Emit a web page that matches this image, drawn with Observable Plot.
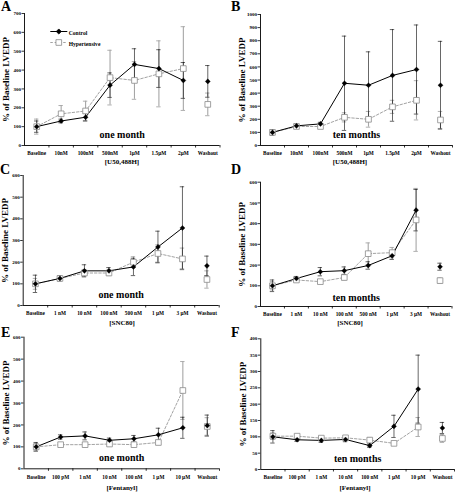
<!DOCTYPE html>
<html><head><meta charset="utf-8">
<script src="https://cdn.jsdelivr.net/npm/d3@7"></script>
<script src="https://cdn.jsdelivr.net/npm/@observablehq/plot@0.6"></script>
<style>
body{margin:0;background:#fff;}
#fig{position:relative;width:455px;height:494px;overflow:hidden;background:#fff;font-family:"Liberation Serif","Times New Roman",serif;font-weight:bold;color:#000;}
#fig svg.pl{position:absolute;left:0;top:0;}
.lbl{position:absolute;white-space:nowrap;line-height:1;}
.letter{font-size:14px;}
.xt{font-size:7px;transform:translateX(-50%);}
</style></head><body><div id="fig"></div>
<script>
// ---- categories ----
const catsU = ["Baseline","10nM","100nM","500nM","1µM","1.5µM","2µM","Washout"];
const catsS = ["Baseline","1 nM","10 nM","100 nM","500 nM","1 µM","3 µM","Washout"];
const catsF = ["Baseline","100 pM","1 nM","10 nM","100 nM","1 µM","10 µM","Washout"];
// ---- y tick labels ----
const ticks700 = [0,100,200,300,400,500,600,700];
const ticks1000 = [0,100,200,300,400,500,600,700,800,900,1000];
const ticks600 = [0,100,200,300,400,500,600];
const ticks400 = [0,50,100,150,200,250,300,350,400];
// ---- A: U50,488H one month ----
const ctrlA = [100,130,150,320,430,408,345,340];
const ctrlErrA = [30,10,20,65,83,100,95,84];
const hypA = [100,168,183,360,345,380,408,218];
const hypErrA = [40,44,52,145,100,175,222,60];
// ---- B: U50,488H ten months ----
const ctrlB = [100,150,165,475,460,535,580,460];
const ctrlErrB = [22,15,12,360,255,350,340,335];
const hypB = [100,145,145,215,200,295,345,195];
const hypErrB = [12,12,10,35,60,50,150,65];
// ---- C: SNC80 one month ----
const ctrlC = [100,125,160,160,178,270,358,183];
const ctrlErrC = [40,12,28,15,40,73,190,45];
const hypC = [100,125,150,150,200,240,215,120];
const hypErrC = [25,10,15,12,25,40,50,40];
// ---- D: SNC80 ten months ----
const ctrlD = [100,135,168,173,198,245,465,192];
const ctrlErrD = [28,10,20,18,18,18,100,17];
const hypD = [100,128,120,140,255,260,418,125];
const hypErrD = [20,8,8,12,52,25,152,12];
// ---- E: Fentanyl one month ----
const ctrlE = [100,145,150,130,137,155,187,197];
const ctrlErrE = [20,10,18,10,15,30,48,48];
const hypE = [100,110,110,113,110,120,357,193];
const hypErrE = [15,8,10,10,10,10,132,40];
// ---- F: Fentanyl ten months ----
const ctrlF = [100,91,89,92,73,132,246,127];
const ctrlErrF = [19,5,6,7,5,34,104,17];
const hypF = [102,102,96,97,90,80,130,95];
const hypErrF = [10,5,5,6,8,5,29,12];

const seriesNames = ["Control","Hypertensive"];
const yTitle = "% of Baseline LVEDP";
const FONT = '"Liberation Serif","Times New Roman",serif';
const W = 455, H = 494;

const panels = [
  {cats:catsU, ctrl:ctrlA, ctrlErr:ctrlErrA, hyp:hypA, hypErr:hypErrA, yTicks:ticks700, x0:24, x1:219.5, yTop:13, y0:145, period:"one month", legend:true},
  {cats:catsU, ctrl:ctrlB, ctrlErr:ctrlErrB, hyp:hypB, hypErr:hypErrB, yTicks:ticks1000, x0:260, x1:452, yTop:14, y0:145, period:"ten months"},
  {cats:catsS, ctrl:ctrlC, ctrlErr:ctrlErrC, hyp:hypC, hypErr:hypErrC, yTicks:ticks600, x0:22.7, x1:218.7, yTop:175, y0:305, period:"one month"},
  {cats:catsS, ctrl:ctrlD, ctrlErr:ctrlErrD, hyp:hypD, hypErr:hypErrD, yTicks:ticks600, x0:260, x1:451.5, yTop:181.7, y0:306, period:"ten months", pdy:-6},
  {cats:catsF, ctrl:ctrlE, ctrlErr:ctrlErrE, hyp:hypE, hypErr:hypErrE, yTicks:ticks600, x0:23.5, x1:219, yTop:336.7, y0:468.3, period:"one month"},
  {cats:catsF, ctrl:ctrlF, ctrlErr:ctrlErrF, hyp:hypF, hypErr:hypErrF, yTicks:ticks400, x0:260.3, x1:454, yTop:338.3, y0:469, period:"ten months"}
];

const HYP = "#8a8a8a", HYPBAR = "#a6a6a6";
const lineSym = {draw(ctx) { ctx.moveTo(-8.5, 0); ctx.lineTo(8.5, 0); }};

function legendMarks() {
  const rows = [
    {name: seriesNames[0], dy: 18, stroke: "#000", sw: 1, dash: null, symbol: "diamond2", r: 2.3, fill: "#000"},
    {name: seriesNames[1], dy: 29, stroke: HYP, sw: 0.8, dash: "2.5,1.8", symbol: "square", r: 3.2, fill: "#fff"}
  ];
  return rows.flatMap(r => [
    Plot.dot([r.name], {frameAnchor:"top-left", dx:34.3, dy:r.dy, symbol:lineSym, fill:"none", stroke:r.stroke, strokeWidth:r.sw, strokeDasharray:r.dash ?? undefined}),
    Plot.dot([r.name], {frameAnchor:"top-left", dx:34.3, dy:r.dy, symbol:r.symbol, r:r.r, fill:r.fill, stroke:r.stroke, strokeWidth:0.8}),
    Plot.text([r.name], {frameAnchor:"top-left", dx:44.2, dy:r.dy, textAnchor:"start", fontSize:5.6, fontWeight:"bold"})
  ]);
}

function panel(p) {
  const ctrl = p.cats.map((c,i)=>({cat:c, v:p.ctrl[i], e:p.ctrlErr[i]}));
  const hyp = p.cats.map((c,i)=>({cat:c, v:p.hyp[i], e:p.hypErr[i]}));
  const last = p.cats[p.cats.length-1];
  const conn = arr => arr.filter(d => d.cat !== last);
  const step = (p.x1 - p.x0) / p.cats.length;
  const yMax = p.yTicks[p.yTicks.length-1];
  const cap = (step - 4.4) / 2;
  const svg = Plot.plot({
    width: W, height: H,
    marginLeft: p.x0, marginRight: W - p.x1, marginTop: p.yTop, marginBottom: H - p.y0,
    style: {background:"transparent", overflow:"visible", fontFamily: FONT, fontWeight:"bold", color:"#000"},
    x: {type:"band", domain:p.cats, padding:0, round:false},
    y: {domain:[0, yMax], nice:false},
    marks: [
      Plot.axisY({ticks:p.yTicks, tickSize:2.5, tickPadding:1, fontSize:5, label:null, tickFormat:d=>String(d), strokeWidth:0.8}),
      Plot.axisX({ticks:p.cats, tickSize:2.5, tickFormat:()=>"", dx:step/2, label:null, strokeWidth:0.8}),
      Plot.axisX({ticks:p.cats, tickSize:0, tickPadding:6, fontSize:5.3, label:null}),
      Plot.ruleY([0], {stroke:"#000", strokeWidth:0.9}),
      Plot.ruleX([p.cats[0]], {dx:-step/2, stroke:"#000", strokeWidth:0.9}),
      Plot.text([yTitle], {frameAnchor:"left", textAnchor:"middle", rotate:-90, dx:-18, fontSize:9, fontWeight:"bold"}),
      Plot.text([p.period], {frameAnchor:"bottom", dy:(p.pdy ?? -7.5), fontSize:10, fontWeight:"bold"}),
      // hypertensive error bars
      Plot.ruleX(hyp, {x:"cat", y1:d=>d.v-d.e, y2:d=>d.v+d.e, stroke:HYPBAR, strokeWidth:1.1}),
      Plot.tickY(hyp, {x:"cat", y:d=>d.v-d.e, insetLeft:cap, insetRight:cap, stroke:HYPBAR, strokeWidth:0.9}),
      Plot.tickY(hyp, {x:"cat", y:d=>d.v+d.e, insetLeft:cap, insetRight:cap, stroke:HYPBAR, strokeWidth:0.9}),
      // control error bars
      Plot.ruleX(ctrl, {x:"cat", y1:d=>d.v-d.e, y2:d=>d.v+d.e, stroke:"#000", strokeWidth:0.6}),
      Plot.tickY(ctrl, {x:"cat", y:d=>d.v-d.e, insetLeft:cap, insetRight:cap, stroke:"#000", strokeWidth:0.6}),
      Plot.tickY(ctrl, {x:"cat", y:d=>d.v+d.e, insetLeft:cap, insetRight:cap, stroke:"#000", strokeWidth:0.6}),
      // lines
      Plot.line(conn(hyp), {x:"cat", y:"v", stroke:HYP, strokeWidth:0.8, strokeDasharray:"2.5,1.8"}),
      Plot.line(conn(ctrl), {x:"cat", y:"v", stroke:"#000", strokeWidth:1}),
      // markers
      Plot.dot(hyp, {x:"cat", y:"v", symbol:"square", r:3.2, fill:"#fff", stroke:HYP, strokeWidth:0.8}),
      Plot.dot(ctrl, {x:"cat", y:"v", symbol:"diamond2", r:2.3, fill:"#000", stroke:"#000", strokeWidth:0.3}),
      ...(p.legend ? legendMarks() : [])
    ]
  });
  svg.classList.add("pl");
  return svg;
}

const fig = document.getElementById("fig");
panels.forEach(p => fig.appendChild(panel(p)));

function label(text, cls, left, top) {
  const d = document.createElement("div");
  d.className = "lbl " + cls;
  d.textContent = text;
  d.style.left = left + "px";
  d.style.top = top + "px";
  fig.appendChild(d);
}
// panel letters
[["A",1,0],["B",231,0],["C",0,163],["D",231,163],["E",1,326],["F",231,326]].forEach(([t,x,y]) => label(t, "letter", x, y));
// x titles
label("[U50,488H]", "xt", 122, 159);
label("[U50,488H]", "xt", 350, 159);
label("[SNC80]", "xt", 122, 319.5);
label("[SNC80]", "xt", 350, 319.5);
label("[Fentanyl]", "xt", 122, 484.5);
label("[Fentanyl]", "xt", 355, 484.5);
</script></body></html>
